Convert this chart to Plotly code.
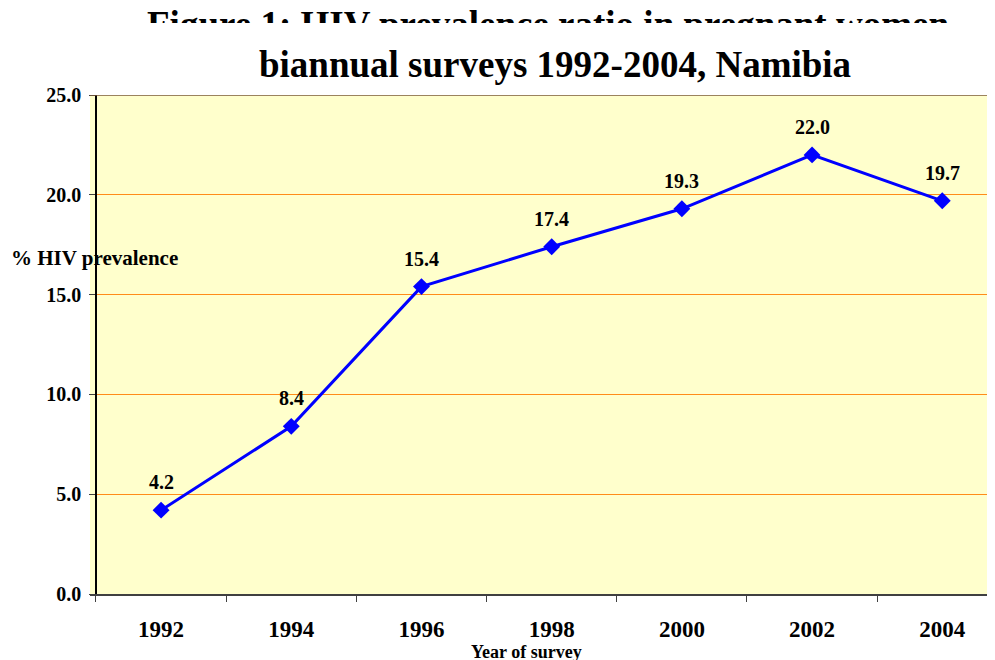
import plotly.graph_objects as go

# ---- data ----
years = ["1992", "1994", "1996", "1998", "2000", "2002", "2004"]
prevalence = [4.2, 8.4, 15.4, 17.4, 19.3, 22.0, 19.7]
value_labels = ["4.2", "8.4", "15.4", "17.4", "19.3", "22.0", "19.7"]
y_tick_values = [0, 5, 10, 15, 20, 25]
y_tick_labels = ["0.0", "5.0", "10.0", "15.0", "20.0", "25.0"]
title_line1 = "Figure 1: HIV prevalence ratio in pregnant women"
title_line2 = "biannual surveys 1992-2004, Namibia"
y_title = "% HIV prevalence"
x_title = "Year of survey"

PAGE_W, PAGE_H = 995, 660
OFF = 8  # default page body margin
W, H = PAGE_W - OFF, PAGE_H - OFF
FONT = "Liberation Serif, Times New Roman, serif"


def pxx(x):
    """page pixel x -> paper fraction"""
    return (x - OFF) / W


def pxy(y):
    """page pixel y -> paper fraction"""
    return 1 - (y - OFF) / H


fig = go.Figure()

fig.add_trace(go.Scatter(
    x=years, y=prevalence, mode="lines+markers",
    line=dict(color="#0000FF", width=3),
    marker=dict(symbol="diamond", size=13, color="#0000FF"),
    cliponaxis=False, showlegend=False, hoverinfo="skip",
))

# first title line, partly hidden (clipped) as in the original
fig.add_trace(go.Scatter(
    x=[548], y=[28], mode="text", text=[title_line1],
    textposition="middle center",
    textfont=dict(family=FONT, size=37, color="black", weight="bold"),
    xaxis="x2", yaxis="y2", cliponaxis=True, showlegend=False, hoverinfo="skip",
))

annotations = []
for i, (v, t) in enumerate(zip(prevalence, value_labels)):
    annotations.append(dict(
        x=i, y=v, xref="x", yref="y", text=t, showarrow=False,
        yshift=28, xanchor="center", yanchor="middle",
        font=dict(family=FONT, size=20, color="black", weight="bold"),
    ))

annotations += [
    dict(x=pxx(555), y=pxy(64.5), xref="paper", yref="paper", text=title_line2,
         showarrow=False, xanchor="center", yanchor="middle",
         font=dict(family=FONT, size=37, color="black", weight="bold")),
    dict(x=pxx(94), y=pxy(258), xref="paper", yref="paper", text=y_title,
         showarrow=False, xanchor="center", yanchor="middle",
         font=dict(family=FONT, size=21, color="black", weight="bold")),
    dict(x=pxx(526), y=pxy(652), xref="paper", yref="paper", text=x_title,
         showarrow=False, xanchor="center", yanchor="middle",
         font=dict(family=FONT, size=18, color="black", weight="bold")),
]

shapes = [
    dict(type="rect", xref="paper", yref="y", x0=pxx(90), x1=1, y0=0, y1=25,
         fillcolor="#FFFFCC", line=dict(width=0), layer="below"),
    dict(type="line", xref="paper", yref="y", x0=pxx(90), x1=1, y0=25, y1=25,
         line=dict(color="#7A5A3A", width=1.5), layer="above"),
]

fig.update_layout(
    width=W, height=H,
    margin=dict(l=0, r=0, t=0, b=0, autoexpand=False),
    paper_bgcolor="white",
    plot_bgcolor="rgba(0,0,0,0)",
    showlegend=False,
    font=dict(family=FONT, color="black"),
    xaxis=dict(
        domain=[pxx(90), 1], type="category", range=[-0.546, 6.405],
        tickson="boundaries", ticks="outside", ticklen=6, tickcolor="#404040",
        showline=True, linecolor="#404040", linewidth=1.5,
        showgrid=False, zeroline=False, anchor="y",
        tickfont=dict(family=FONT, size=23, color="black", weight="bold"),
        ticklabelstandoff=14, fixedrange=True, automargin=False,
    ),
    yaxis=dict(
        domain=[pxy(594), pxy(95)], range=[0, 25],
        tickvals=y_tick_values, ticktext=y_tick_labels,
        ticks="outside", ticklen=6, tickcolor="#404040",
        showline=True, linecolor="black", linewidth=1.5,
        showgrid=True, gridcolor="#FF8C1A", gridwidth=1, zeroline=False,
        anchor="free", position=pxx(96),
        tickfont=dict(family=FONT, size=20, color="black", weight="bold"),
        ticklabelstandoff=4, fixedrange=True, automargin=False,
    ),
    xaxis2=dict(domain=[0, 1], range=[OFF, PAGE_W], visible=False, anchor="y2", fixedrange=True),
    yaxis2=dict(domain=[pxy(23), 1], range=[23, OFF], visible=False, anchor="x2", fixedrange=True),
    annotations=annotations,
    shapes=shapes,
)

fig.write_html("out.html")
